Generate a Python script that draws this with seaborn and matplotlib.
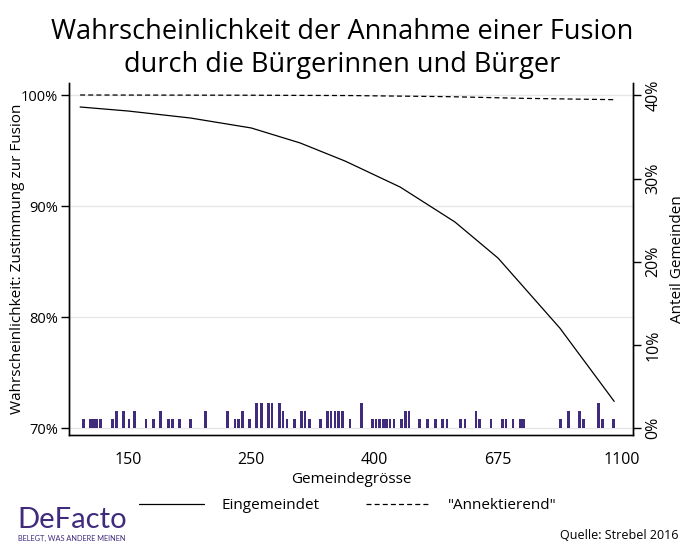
import numpy as np
import pandas as pd
import matplotlib
matplotlib.use('Agg')
import matplotlib.pyplot as plt
import seaborn as sns

# Daten: Gemeindegrösse auf log-Skala (ln)
x_eingemeindet = [4.807, 5.0, 5.253, 5.5, 5.698, 5.88, 6.103, 6.325, 6.5, 6.75, 6.97]
p_eingemeindet = [98.92, 98.56, 97.93, 97.03, 95.68, 94.05, 91.71, 88.56, 85.3, 79.0, 72.4]

x_annektierend = [4.807, 5.5, 5.9, 6.3, 6.6, 6.97]
p_annektierend = [100.0, 99.98, 99.95, 99.85, 99.7, 99.58]

# Anteil Gemeinden (Histogramm unten)
x_gemeinden = [4.820, 4.849, 4.862, 4.874, 4.888, 4.938, 4.953, 4.982, 5.005, 5.028,
               5.074, 5.104, 5.134, 5.164, 5.181, 5.209, 5.253, 5.314, 5.403, 5.434,
               5.448, 5.464, 5.492, 5.523, 5.540, 5.569, 5.584, 5.613, 5.629, 5.645,
               5.675, 5.704, 5.718, 5.735, 5.779, 5.809, 5.823, 5.839, 5.853, 5.868,
               5.900, 5.946, 5.991, 6.005, 6.019, 6.034, 6.048, 6.062, 6.078, 6.109,
               6.124, 6.139, 6.183, 6.214, 6.245, 6.273, 6.293, 6.347, 6.366, 6.410,
               6.426, 6.471, 6.517, 6.532, 6.560, 6.589, 6.602, 6.754, 6.785, 6.830,
               6.845, 6.906, 6.922, 6.966]
anteil_gemeinden = [1.1, 1.1, 1.1, 1.1, 1.1, 1.1, 2.1, 2.1, 1.1, 2.1,
                    1.1, 1.1, 2.1, 1.1, 1.1, 1.1, 1.1, 2.1, 2.1, 1.1,
                    1.1, 2.1, 1.1, 3.0, 3.0, 3.0, 3.0, 3.0, 2.1, 1.1,
                    1.1, 2.1, 2.1, 1.1, 1.1, 2.1, 2.1, 2.1, 2.1, 2.1,
                    1.1, 3.0, 1.1, 1.1, 1.1, 1.1, 1.1, 1.1, 1.1, 1.1,
                    2.1, 2.1, 1.1, 1.1, 1.1, 1.1, 1.1, 1.1, 1.1, 2.1,
                    1.1, 1.1, 1.1, 1.1, 1.1, 1.1, 1.1, 1.1, 2.1, 2.1,
                    1.1, 3.0, 1.1, 1.1]

x_ticks = [5.0, 5.5, 6.0, 6.5, 7.0]
x_ticklabels = ['150', '250', '400', '675', '1100']
y_left_ticks = [70, 80, 90, 100]
y_right_ticks = [0, 10, 20, 30, 40]

lila = '#3f2a7c'
schrift = 'Open Sans'

sns.set_theme(style='white')
plt.rcParams['font.family'] = [schrift, 'DejaVu Sans']
plt.rcParams['text.color'] = 'black'
plt.rcParams['axes.labelcolor'] = 'black'

fig = plt.figure(figsize=(6.92, 5.59), dpi=100)
ax = fig.add_axes([0.0997, 0.2218, 0.815, 0.6297])
ax2 = ax.twinx()

df_e = pd.DataFrame({'x': x_eingemeindet, 'p': p_eingemeindet})
df_a = pd.DataFrame({'x': x_annektierend, 'p': p_annektierend})
df_g = pd.DataFrame({'x': x_gemeinden, 'anteil': anteil_gemeinden})

# Gitterlinien
for yv in y_left_ticks:
    ax.axhline(yv, color='#e6e6e6', lw=0.9, zorder=0)

sns.lineplot(data=df_e, x='x', y='p', ax=ax, color='black', lw=0.9,
             label='Eingemeindet')
sns.lineplot(data=df_a, x='x', y='p', ax=ax, color='black', lw=0.9,
             linestyle=(0, (4, 2.5)), label='"Annektierend"')

ax2.bar(df_g['x'], df_g['anteil'], width=0.0115, color=lila, linewidth=0)

ax.set_xlim(4.762, 7.046)
ax.set_ylim(69.37, 101.08)
ax2.set_ylim(-0.84, 41.5)

ax.set_xticks(x_ticks)
ax.set_xticklabels(x_ticklabels)
ax.set_yticks(y_left_ticks)
ax.set_yticklabels([f'{v}%' for v in y_left_ticks])
ax2.set_yticks(y_right_ticks)
ax2.set_yticklabels([f'{v}%' for v in y_right_ticks], rotation=90, va='center')

for a in (ax, ax2):
    a.spines['top'].set_visible(False)
    for s in ('left', 'right', 'bottom'):
        a.spines[s].set_color('black')
        a.spines[s].set_linewidth(1.0)
    a.tick_params(axis='both', direction='out', length=6, width=1.0,
                  colors='black', labelsize=11.5)
ax.spines['bottom'].set_color('#555555')
ax.tick_params(axis='x', colors='#555555', labelcolor='black')
ax.tick_params(axis='x', pad=6)
ax.tick_params(axis='y', pad=2, labelsize=10.5)
ax2.tick_params(axis='y', pad=3)

ax.set_xlabel('Gemeindegrösse', fontsize=11, labelpad=3)
ax.set_ylabel('Wahrscheinlichkeit: Zustimmung zur Fusion', fontsize=11)
ax.yaxis.set_label_coords(-0.078, 0.5)
ax2.set_ylabel('Anteil Gemeinden', fontsize=11, labelpad=6)

leg = ax.legend(loc='upper center', bbox_to_anchor=(0.495, -0.14), ncol=2,
                frameon=False, fontsize=11, handlelength=4.2, columnspacing=3.0,
                handletextpad=1.2)

fig.suptitle('Wahrscheinlichkeit der Annahme einer Fusion\ndurch die Bürgerinnen und Bürger',
             x=0.494, y=0.968, fontsize=19.5, linespacing=1.25, color='black')

fig.text(0.025, 0.055, 'DeFacto', fontsize=21, color=lila,
         family=['Lato', 'DejaVu Sans'])
fig.text(0.026, 0.032, 'BELEGT, WAS ANDERE MEINEN', fontsize=5.3, color=lila,
         family=['Lato', 'DejaVu Sans'])
fig.text(0.98, 0.035, 'Quelle: Strebel 2016', fontsize=9, ha='right')

fig.savefig('out.png', dpi=100)
